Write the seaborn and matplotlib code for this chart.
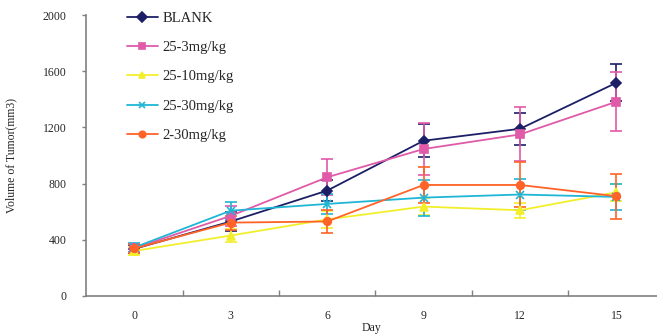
import pandas as pd
import matplotlib
matplotlib.use("Agg")
import matplotlib.pyplot as plt
import seaborn as sns

# Data
days = ["0", "3", "6", "9", "12", "15"]
groups = ["BLANK", "25-3mg/kg", "25-10mg/kg", "25-30mg/kg", "2-30mg/kg"]

blank = [335, 530, 750, 1105, 1190, 1518]
g25_3 = [340, 570, 845, 1046, 1150, 1383]
g25_10 = [320, 430, 545, 636, 610, 738]
g25_30 = [345, 607, 655, 700, 722, 705]
g2_30 = [338, 522, 530, 790, 790, 710]

blank_err = [30, 65, 75, 118, 112, 133]
g25_3_err = [30, 70, 128, 188, 192, 208]
g25_10_err = [30, 45, 60, 60, 55, 60]
g25_30_err = [30, 60, 70, 128, 112, 95]
g2_30_err = [35, 50, 80, 130, 160, 160]

colors = ["#1c1f66", "#e05aa8", "#f2ef2a", "#1fb6d6", "#ff6328"]
markers = ["D", "s", "^", "x", "o"]

values = [blank, g25_3, g25_10, g25_30, g2_30]
errors = [blank_err, g25_3_err, g25_10_err, g25_30_err, g2_30_err]

rows = []
for g, vals, errs in zip(groups, values, errors):
    for i, (v, e) in enumerate(zip(vals, errs)):
        rows.append({"group": g, "pos": i, "volume": v, "err": e})
df = pd.DataFrame(rows)

sns.set_theme(style="white")
plt.rcParams["font.family"] = ["Liberation Serif", "DejaVu Serif"]

fig = plt.figure(figsize=(6.57, 3.34), dpi=100)
ax = fig.add_axes([0.131, 0.114, 0.869, 0.841])

# error bars first
for g, c in zip(groups, colors):
    sub = df[df["group"] == g]
    ax.errorbar(sub["pos"], sub["volume"], yerr=sub["err"], fmt="none",
                ecolor=c, elinewidth=1.2, capsize=4.5, capthick=1.2)

# one lineplot per group so filled and line-art markers can mix
for g, c, m in zip(groups, colors, markers):
    sub = df[df["group"] == g]
    sns.lineplot(data=sub, x="pos", y="volume", color=c, marker=m,
                 markersize=5.5, markeredgecolor=c, markeredgewidth=1.2,
                 linewidth=1.3, ax=ax, label=g)

# legend
ax.legend(loc="upper left", bbox_to_anchor=(0.072, 1.012),
          frameon=False, fontsize=10.5, labelspacing=1.1, handlelength=2.1,
          handletextpad=0.3, borderpad=0, borderaxespad=0, markerscale=0.85)

ax.set_xlim(-0.5, 5.42)
ax.set_ylim(0, 2000)
ax.set_yticks([0, 400, 800, 1200, 1600, 2000])
ax.set_xticks(range(len(days)))
ax.set_xticklabels(days)
ax.set_xticks([0.5, 1.5, 2.5, 3.5, 4.5], minor=True)
ax.tick_params(axis="x", which="major", length=0, pad=10, labelsize=8.5)
ax.tick_params(axis="x", which="minor", direction="in", length=4,
               width=1, color="#808080", bottom=True)
ax.tick_params(axis="y", which="major", direction="out", length=3,
               width=1, color="#808080", left=True, labelsize=8.5, pad=11)

sns.despine(ax=ax)
for s in ["left", "bottom"]:
    ax.spines[s].set_color("#808080")
    ax.spines[s].set_linewidth(1.2)

ax.set_xlabel("Day", fontsize=8.5, labelpad=0)
ax.set_ylabel("Volume of Tumor(mm3)", fontsize=8.5, labelpad=18)

fig.savefig("out.png", dpi=100)
